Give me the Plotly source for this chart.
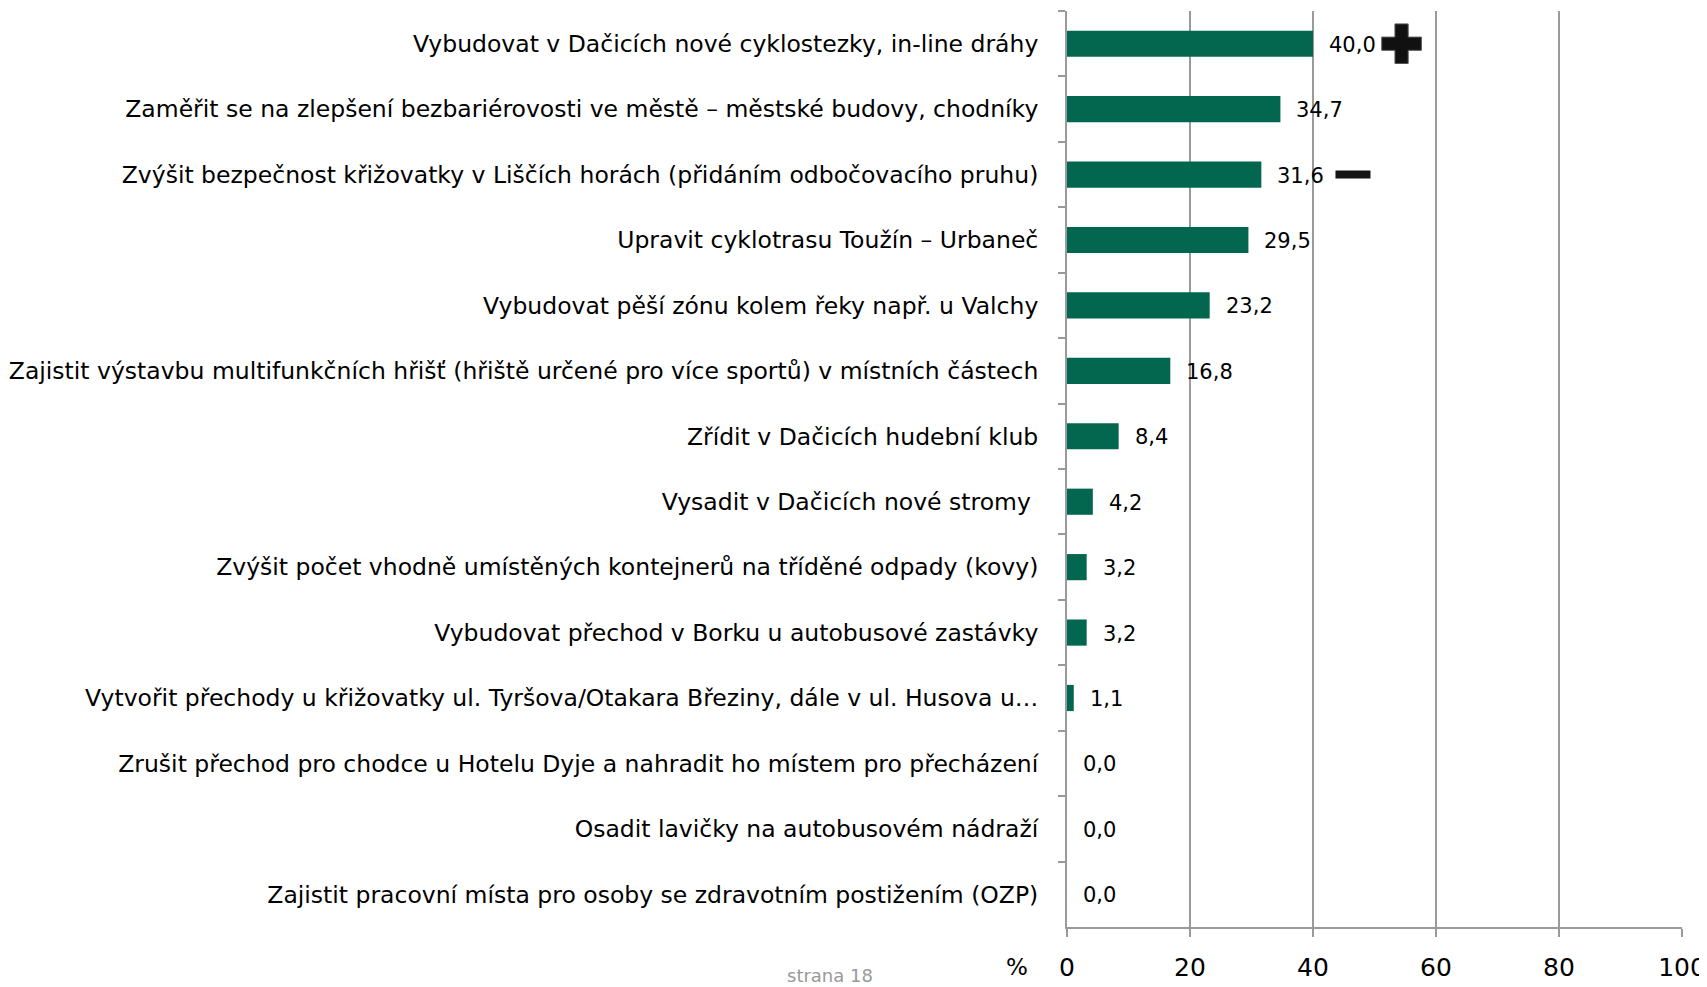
import plotly.graph_objects as go

# hodnoty (%)
categories = [
    'Vybudovat v Dačicích nové cyklostezky, in-line dráhy',
    'Zaměřit se na zlepšení bezbariérovosti ve městě – městské budovy, chodníky',
    'Zvýšit bezpečnost křižovatky v Liščích horách (přidáním odbočovacího pruhu)',
    'Upravit cyklotrasu Toužín – Urbaneč',
    'Vybudovat pěší zónu kolem řeky např. u Valchy',
    'Zajistit výstavbu multifunkčních hřišť (hřiště určené pro více sportů) v místních částech',
    'Zřídit v Dačicích hudební klub',
    'Vysadit v Dačicích nové stromy ',
    'Zvýšit počet vhodně umístěných kontejnerů na tříděné odpady (kovy)',
    'Vybudovat přechod v Borku u autobusové zastávky',
    'Vytvořit přechody u křižovatky ul. Tyršova/Otakara Březiny, dále v ul. Husova u…',
    'Zrušit přechod pro chodce u Hotelu Dyje a nahradit ho místem pro přecházení',
    'Osadit lavičky na autobusovém nádraží',
    'Zajistit pracovní místa pro osoby se zdravotním postižením (OZP)',
]
values = [40.0, 34.7, 31.6, 29.5, 23.2, 16.8, 8.4, 4.2, 3.2, 3.2, 1.1, 0.0, 0.0, 0.0]
x_ticks = [0, 20, 40, 60, 80, 100]

# ikonky plus / minus u prvních položek
trend_rows = [0, 2]
trend_x = [54.4, 46.5]
trend_symbols = ['cross', 'line-ew']

FONT = 'DejaVu Sans, sans-serif'
GREEN = '#03674f'
GRID = '#9a9a9a'

fig = go.Figure()
fig.add_trace(go.Bar(
    x=values, y=categories, orientation='h',
    marker=dict(color=GREEN, line=dict(width=0)),
    width=0.4, hoverinfo='x+y',
))

# plus
fig.add_trace(go.Scatter(
    x=[trend_x[0]], y=[categories[trend_rows[0]]], mode='markers',
    marker=dict(symbol=trend_symbols[0], size=33, color='#111111',
                line=dict(color='#555555', width=1)),
    hoverinfo='skip',
))
# minus
fig.add_trace(go.Scatter(
    x=[trend_x[1]], y=[categories[trend_rows[1]]], mode='markers',
    marker=dict(symbol=trend_symbols[1], size=25,
                line=dict(color='#151515', width=8)),
    hoverinfo='skip',
))

annotations = []
for cat, v in zip(categories, values):
    annotations.append(dict(
        x=v, y=cat, xref='x', yref='y', text=f'{v:.1f}'.replace('.', ','),
        showarrow=False, xanchor='left', yanchor='middle', xshift=14, yshift=-1,
        font=dict(family=FONT, size=21, color='black'),
    ))
annotations.append(dict(
    x=-0.081, y=-0.044, xref='paper', yref='paper', text='%', showarrow=False,
    xanchor='center', yanchor='middle', font=dict(family=FONT, size=23, color='black'),
))
annotations.append(dict(
    x=-0.385, y=-0.053, xref='paper', yref='paper', text='strana 18', showarrow=False,
    xanchor='center', yanchor='middle', font=dict(family=FONT, size=18, color='#999999'),
))

# stránka má okraj 8 px, proto menší rozměry
fig.update_layout(
    width=1699, height=979,
    margin=dict(l=1059, r=25, t=3, b=60),
    plot_bgcolor='white', paper_bgcolor='white',
    showlegend=False, bargap=0.6,
    font=dict(family=FONT, size=23, color='black'),
    annotations=annotations,
)
fig.update_xaxes(
    range=[0, 100], tickvals=x_ticks, ticktext=[str(t) for t in x_ticks],
    showgrid=True, gridcolor=GRID, gridwidth=1.5,
    showline=True, linecolor=GRID, linewidth=2,
    ticks='outside', ticklen=8, tickcolor=GRID, tickwidth=1.5,
    ticklabelstandoff=9, zeroline=False, automargin=False,
    tickfont=dict(family=FONT, size=25, color='black'),
)
fig.update_yaxes(
    range=[len(categories) - 0.5, -0.5], tickson='boundaries',
    showline=True, linecolor=GRID, linewidth=2,
    ticks='outside', ticklen=7, tickcolor=GRID, tickwidth=1.5,
    ticklabelstandoff=22, showgrid=False, automargin=False,
    tickfont=dict(family=FONT, size=23.5, color='black'),
)

fig.write_html('out.html')
